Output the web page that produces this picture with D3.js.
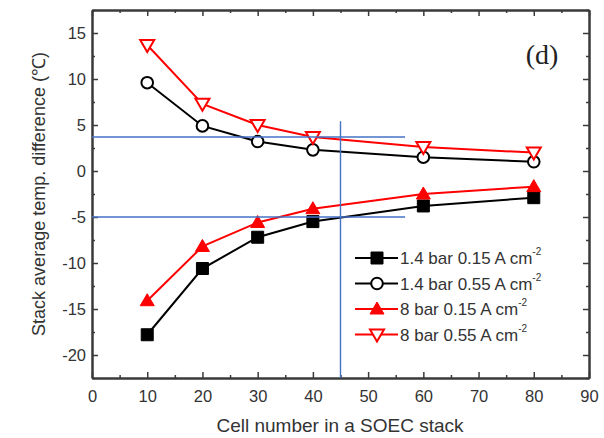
<!DOCTYPE html>
<html>
<head>
<meta charset="utf-8">
<script src="https://cdn.jsdelivr.net/npm/d3@7"></script>
<style>
  body { margin: 0; background: #fff; }
  svg { display: block; }
  .axis path, .axis line { stroke: #3a3a3a; }
  .axis text { font-family: "Liberation Sans", Arial, sans-serif; font-size: 16.5px; fill: #333; }
</style>
</head>
<body>
<svg width="604" height="438"></svg>
<script>
// cell numbers
var cells = [10, 20, 30, 40, 60, 80];

// stack average temperature difference
var lowP_lowI  = [-17.8, -10.6, -7.2, -5.5, -3.8, -2.9]; // 1.4 bar 0.15
var lowP_highI = [9.6, 4.9, 3.2, 2.3, 1.5, 1.0];          // 1.4 bar 0.55
var highP_lowI = [-14.1, -8.2, -5.6, -4.1, -2.5, -1.7];   // 8 bar 0.15
var highP_highI = [13.7, 7.3, 5.0, 3.7, 2.6, 2.0];        // 8 bar 0.55

var seriesNames = ["1.4 bar 0.15 A cm", "1.4 bar 0.55 A cm", "8 bar 0.15 A cm", "8 bar 0.55 A cm"];
var seriesColors = ["#000", "#000", "#f00", "#f00"];
var seriesMarks = ["square", "circle", "triUp", "triDown"];

var xTicks = [0, 10, 20, 30, 40, 50, 60, 70, 80, 90];
var yTicks = [-20, -15, -10, -5, 0, 5, 10, 15];

// blue guide lines drawn over the chart
var guideY = [3.7, -5];
var guideX = 45;

var margin = {left: 92, top: 10, right: 15, bottom: 60};
var svg = d3.select("svg");
var W = 604, H = 438;

var x = d3.scaleLinear().domain([0, 90]).range([margin.left, W - margin.right]);
var y = d3.scaleLinear().domain([-22.5, 17.5]).range([H - margin.bottom, margin.top]);

var series = [lowP_lowI, lowP_highI, highP_lowI, highP_highI].map(function(vals, i) {
  return {
    name: seriesNames[i],
    color: seriesColors[i],
    mark: seriesMarks[i],
    pts: vals.map(function(v, j) { return {x: cells[j], y: v}; })
  };
});

var minorX = d3.range(5, 90, 10);
var minorY = d3.range(-22.5, 17.6, 5);

// plain hyphen for negatives, like the original
var fmt = function(d) { return String(d); };

// axes, ticks pointing inward
function addAxis(axis, tr, vals, size, pad) {
  var g = svg.append("g").attr("class", "axis").attr("transform", tr)
    .call(axis.tickValues(vals).tickSizeInner(size).tickSizeOuter(0)
      .tickPadding(pad || 0)
      .tickFormat(pad ? fmt : ""));
  g.select(".domain").attr("stroke-width", 2);
  g.selectAll("line").attr("stroke-width", 1.5);
  return g;
}
var bx = "translate(0," + y.range()[0] + ")";
var tx = "translate(0," + y.range()[1] + ")";
var ly = "translate(" + x.range()[0] + ",0)";
var ry = "translate(" + x.range()[1] + ",0)";

addAxis(d3.axisBottom(x), bx, xTicks, -6, 12);
addAxis(d3.axisBottom(x), bx, minorX, -3);
addAxis(d3.axisTop(x), tx, xTicks, -6);
addAxis(d3.axisTop(x), tx, minorX, -3);
addAxis(d3.axisLeft(y), ly, yTicks, -6, 6);
addAxis(d3.axisLeft(y), ly, minorY, -3);
addAxis(d3.axisRight(y), ry, yTicks, -6);
addAxis(d3.axisRight(y), ry, minorY, -3);

// axis titles
svg.append("text")
  .attr("x", 340).attr("y", 432)
  .attr("text-anchor", "middle")
  .style("font-family", "Liberation Sans, Arial, sans-serif")
  .style("font-size", "19px").attr("fill", "#333")
  .text("Cell number in a SOEC stack");

svg.append("text")
  .attr("transform", "translate(45,194) rotate(-90)")
  .attr("text-anchor", "middle")
  .style("font-family", "Liberation Sans, Arial, sans-serif")
  .style("font-size", "18px").attr("fill", "#333")
  .text("Stack average temp. difference (\u2103)");

svg.append("text")
  .attr("x", 542).attr("y", 64)
  .attr("text-anchor", "middle")
  .style("font-family", "Liberation Serif, Times New Roman, serif")
  .style("font-size", "28px").attr("fill", "#222")
  .text("(d)");

// marker shapes
function symbolPath(mark) {
  if (mark == "square") return "M-6,-6H6V6H-6Z";
  if (mark == "triUp") return "M0,-7L7,5H-7Z";
  if (mark == "triDown") return "M0,7L7,-5H-7Z";
  return null;
}
function drawMark(g, mark, color) {
  if (mark == "circle") {
    g.append("circle").attr("r", 5.8).attr("fill", "#fff")
      .attr("stroke", color).attr("stroke-width", 2);
  } else {
    var filled = (mark == "square" || mark == "triUp");
    g.append("path").attr("d", symbolPath(mark))
      .attr("fill", filled ? color : "#fff")
      .attr("stroke", color).attr("stroke-width", filled ? 1 : 2)
      .attr("stroke-linejoin", "miter");
  }
}

var line = d3.line().x(function(d) { return x(d.x); }).y(function(d) { return y(d.y); });

series.forEach(function(s) {
  svg.append("path").datum(s.pts)
    .attr("d", line)
    .attr("fill", "none")
    .attr("stroke", s.color)
    .attr("stroke-width", 2);
});
series.forEach(function(s) {
  s.pts.forEach(function(p) {
    var g = svg.append("g").attr("transform", "translate(" + x(p.x) + "," + y(p.y) + ")");
    drawMark(g, s.mark, s.color);
  });
});

// legend
var legend = svg.append("g").attr("transform", "translate(355,258)");
series.forEach(function(s, i) {
  var row = legend.append("g").attr("transform", "translate(0," + (i * 25.5) + ")");
  row.append("line").attr("x1", 0).attr("x2", 43).attr("y1", 0).attr("y2", 0)
    .attr("stroke", s.color).attr("stroke-width", 2);
  drawMark(row.append("g").attr("transform", "translate(22,0)"), s.mark, s.color);
  var t = row.append("text").attr("x", 45).attr("y", 6)
    .style("font-family", "Liberation Sans, Arial, sans-serif")
    .style("font-size", "17px").attr("fill", "#333")
    .text(s.name);
  t.append("tspan").attr("dy", -9).style("font-size", "10px").text("-2");
});

// blue guide lines
var guides = svg.append("g").attr("stroke", "#4472c4").attr("stroke-width", 1.4);
guideY.forEach(function(v) {
  guides.append("line").attr("x1", x(0)).attr("x2", x(56.7))
    .attr("y1", y(v)).attr("y2", y(v));
});
guides.append("line").attr("x1", x(guideX)).attr("x2", x(guideX))
  .attr("y1", y(5.4)).attr("y2", y.range()[0]);
</script>
</body>
</html>
